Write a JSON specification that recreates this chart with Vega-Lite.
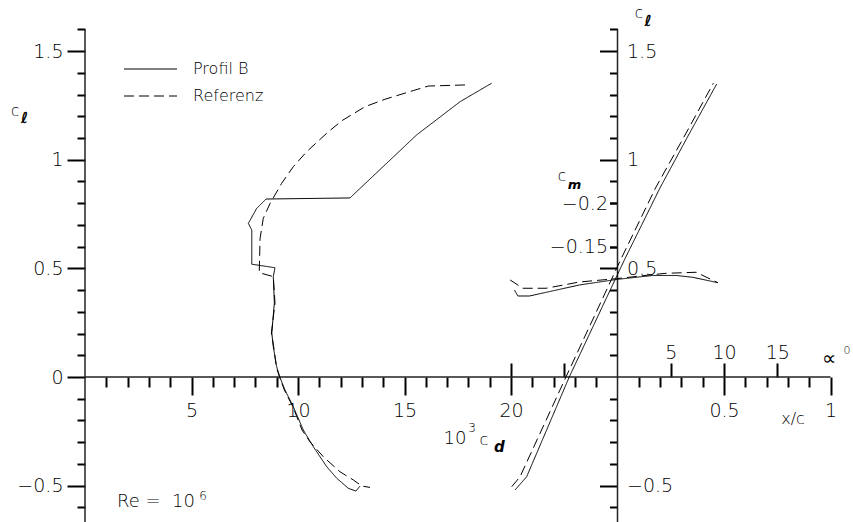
{
  "$schema": "https://vega.github.io/schema/vega-lite/v6.json",
  "width": 853,
  "height": 522,
  "padding": 0,
  "autosize": {"type": "none"},
  "background": "white",
  "config": {
    "view": {"stroke": null},
    "axis": {"domain": false, "grid": false, "tickColor": "black", "tickWidth": 2, "labelColor": "black", "labelFont": "DejaVu Sans", "labelFontSize": 19, "labelFontWeight": 200, "labelOverlap": false, "labelFlush": false, "labelBound": false},
    "line": {"strokeWidth": 1, "color": "black"},
    "rule": {"strokeWidth": 1.5, "color": "#222222"},
    "text": {"font": "DejaVu Sans", "color": "black", "fontWeight": 200}
  },
  "datasets": {
    "polar": [
      {"series": "Profil B", "i": 1, "cd": 19.09, "cl": 1.352},
      {"series": "Profil B", "i": 2, "cd": 17.61, "cl": 1.267},
      {"series": "Profil B", "i": 3, "cd": 15.57, "cl": 1.114},
      {"series": "Profil B", "i": 4, "cd": 12.44, "cl": 0.824},
      {"series": "Profil B", "i": 5, "cd": 8.50, "cl": 0.819},
      {"series": "Profil B", "i": 6, "cd": 8.06, "cl": 0.776},
      {"series": "Profil B", "i": 7, "cd": 7.67, "cl": 0.707},
      {"series": "Profil B", "i": 8, "cd": 7.83, "cl": 0.676},
      {"series": "Profil B", "i": 9, "cd": 7.83, "cl": 0.519},
      {"series": "Profil B", "i": 10, "cd": 8.92, "cl": 0.503},
      {"series": "Profil B", "i": 11, "cd": 8.84, "cl": 0.462},
      {"series": "Profil B", "i": 12, "cd": 8.89, "cl": 0.341},
      {"series": "Profil B", "i": 13, "cd": 8.77, "cl": 0.202},
      {"series": "Profil B", "i": 14, "cd": 8.84, "cl": 0.139},
      {"series": "Profil B", "i": 15, "cd": 9.00, "cl": 0.047},
      {"series": "Profil B", "i": 16, "cd": 9.15, "cl": -0.001},
      {"series": "Profil B", "i": 17, "cd": 9.39, "cl": -0.060},
      {"series": "Profil B", "i": 18, "cd": 9.78, "cl": -0.137},
      {"series": "Profil B", "i": 19, "cd": 10.25, "cl": -0.244},
      {"series": "Profil B", "i": 20, "cd": 10.72, "cl": -0.321},
      {"series": "Profil B", "i": 21, "cd": 11.35, "cl": -0.413},
      {"series": "Profil B", "i": 22, "cd": 11.82, "cl": -0.466},
      {"series": "Profil B", "i": 23, "cd": 12.36, "cl": -0.512},
      {"series": "Profil B", "i": 24, "cd": 12.72, "cl": -0.525},
      {"series": "Profil B", "i": 25, "cd": 12.91, "cl": -0.502},
      {"series": "Referenz", "i": 1, "cd": 17.84, "cl": 1.344},
      {"series": "Referenz", "i": 2, "cd": 16.12, "cl": 1.339},
      {"series": "Referenz", "i": 3, "cd": 15.41, "cl": 1.318},
      {"series": "Referenz", "i": 4, "cd": 14.08, "cl": 1.278},
      {"series": "Referenz", "i": 5, "cd": 13.15, "cl": 1.244},
      {"series": "Referenz", "i": 6, "cd": 12.05, "cl": 1.179},
      {"series": "Referenz", "i": 7, "cd": 11.35, "cl": 1.122},
      {"series": "Referenz", "i": 8, "cd": 10.41, "cl": 1.037},
      {"series": "Referenz", "i": 9, "cd": 9.78, "cl": 0.968},
      {"series": "Referenz", "i": 10, "cd": 9.23, "cl": 0.891},
      {"series": "Referenz", "i": 11, "cd": 8.69, "cl": 0.799},
      {"series": "Referenz", "i": 12, "cd": 8.37, "cl": 0.730},
      {"series": "Referenz", "i": 13, "cd": 8.22, "cl": 0.638},
      {"series": "Referenz", "i": 14, "cd": 8.18, "cl": 0.480},
      {"series": "Referenz", "i": 15, "cd": 8.84, "cl": 0.462},
      {"series": "Referenz", "i": 16, "cd": 8.92, "cl": 0.341},
      {"series": "Referenz", "i": 17, "cd": 8.75, "cl": 0.202},
      {"series": "Referenz", "i": 18, "cd": 8.86, "cl": 0.139},
      {"series": "Referenz", "i": 19, "cd": 8.98, "cl": 0.047},
      {"series": "Referenz", "i": 20, "cd": 9.13, "cl": 0.0},
      {"series": "Referenz", "i": 21, "cd": 9.36, "cl": -0.060},
      {"series": "Referenz", "i": 22, "cd": 9.76, "cl": -0.137},
      {"series": "Referenz", "i": 23, "cd": 10.19, "cl": -0.244},
      {"series": "Referenz", "i": 24, "cd": 10.56, "cl": -0.298},
      {"series": "Referenz", "i": 25, "cd": 11.19, "cl": -0.367},
      {"series": "Referenz", "i": 26, "cd": 11.97, "cl": -0.436},
      {"series": "Referenz", "i": 27, "cd": 12.60, "cl": -0.474},
      {"series": "Referenz", "i": 28, "cd": 13.00, "cl": -0.502},
      {"series": "Referenz", "i": 29, "cd": 13.38, "cl": -0.508}
    ],
    "lift": [
      {"series": "Profil B", "i": 1, "alpha": -9.62, "cl": -0.520},
      {"series": "Profil B", "i": 2, "alpha": -8.53, "cl": -0.459},
      {"series": "Profil B", "i": 3, "alpha": -4.53, "cl": 0.0},
      {"series": "Profil B", "i": 4, "alpha": 0.64, "cl": 0.538},
      {"series": "Profil B", "i": 5, "alpha": 3.99, "cl": 0.870},
      {"series": "Profil B", "i": 6, "alpha": 6.62, "cl": 1.109},
      {"series": "Profil B", "i": 7, "alpha": 9.31, "cl": 1.348},
      {"series": "Referenz", "i": 1, "alpha": -9.93, "cl": -0.505},
      {"series": "Referenz", "i": 2, "alpha": -9.15, "cl": -0.459},
      {"series": "Referenz", "i": 3, "alpha": -4.84, "cl": 0.0},
      {"series": "Referenz", "i": 4, "alpha": 0.28, "cl": 0.538},
      {"series": "Referenz", "i": 5, "alpha": 3.57, "cl": 0.870},
      {"series": "Referenz", "i": 6, "alpha": 6.29, "cl": 1.109},
      {"series": "Referenz", "i": 7, "alpha": 9.0, "cl": 1.352}
    ],
    "moment": [
      {"series": "Profil B", "i": 1, "alpha": -9.67, "cm": -0.100},
      {"series": "Profil B", "i": 2, "alpha": -9.36, "cm": -0.0932},
      {"series": "Profil B", "i": 3, "alpha": -8.26, "cm": -0.0932},
      {"series": "Profil B", "i": 4, "alpha": -3.57, "cm": -0.1059},
      {"series": "Profil B", "i": 5, "alpha": 0.03, "cm": -0.1124},
      {"series": "Profil B", "i": 6, "alpha": 3.31, "cm": -0.1168},
      {"series": "Profil B", "i": 7, "alpha": 5.51, "cm": -0.1168},
      {"series": "Profil B", "i": 8, "alpha": 7.07, "cm": -0.1147},
      {"series": "Profil B", "i": 9, "alpha": 9.42, "cm": -0.1085},
      {"series": "Referenz", "i": 1, "alpha": -10.08, "cm": -0.1116},
      {"series": "Referenz", "i": 2, "alpha": -8.89, "cm": -0.1021},
      {"series": "Referenz", "i": 3, "alpha": -6.69, "cm": -0.1021},
      {"series": "Referenz", "i": 4, "alpha": -3.57, "cm": -0.1093},
      {"series": "Referenz", "i": 5, "alpha": 0.03, "cm": -0.1133},
      {"series": "Referenz", "i": 6, "alpha": 3.00, "cm": -0.1174},
      {"series": "Referenz", "i": 7, "alpha": 4.57, "cm": -0.1193},
      {"series": "Referenz", "i": 8, "alpha": 7.39, "cm": -0.1205},
      {"series": "Referenz", "i": 9, "alpha": 9.42, "cm": -0.1085}
    ]
  },
  "resolve": {"scale": {"x": "independent", "y": "independent"}, "axis": {"x": "independent", "y": "independent"}},
  "layer": [
    {
      "data": {"values": [{}]},
      "mark": "rule",
      "encoding": {
        "x": {"datum": 0, "type": "quantitative", "scale": {"domain": [-3.9906, 36.0563], "nice": false, "zero": false},
          "axis": {"orient": "bottom", "offset": -145, "values": [1,2,3,4,6,7,8,9,11,12,13,14,16,17,18,19,21,22,23,24,26,27,28,29,31,32,33,34], "tickSize": 10, "labels": false, "title": null}},
        "y": {"datum": 1.6, "type": "quantitative", "scale": {"domain": [-0.66728, 1.73493], "nice": false, "zero": false},
          "axis": {"orient": "left", "offset": -85, "values": [-0.5, 0, 0.5, 1, 1.5], "tickSize": 18, "labelPadding": 4, "format": ".1~f", "title": null}},
        "y2": {"datum": -0.68}
      }
    },
    {
      "data": {"values": [{}]},
      "mark": "rule",
      "encoding": {
        "x": {"datum": 25, "type": "quantitative", "scale": {"domain": [-3.9906, 36.0563], "nice": false, "zero": false},
          "axis": {"orient": "bottom", "offset": -145, "values": [5, 10, 15, 20, 30, 35], "tickSize": 18, "labelPadding": 21, "labelBaseline": "alphabetic", "labelExpr": "datum.value == 30 ? '0.5' : datum.value == 35 ? '1' : format(datum.value, 'd')", "title": null}},
        "y": {"datum": 1.6, "type": "quantitative", "scale": {"domain": [-0.66728, 1.73493], "nice": false, "zero": false},
          "axis": {"orient": "left", "offset": -85, "values": [-0.6,-0.4,-0.3,-0.2,-0.1,0.1,0.2,0.3,0.4,0.6,0.7,0.8,0.9,1.1,1.2,1.3,1.4,1.6], "tickSize": 8, "labels": false, "title": null}},
        "y2": {"datum": -0.68}
      }
    },
    {
      "data": {"values": [{}]},
      "mark": "rule",
      "encoding": {
        "x": {"datum": 0, "type": "quantitative", "scale": {"domain": [-3.9906, 36.0563], "nice": false, "zero": false},
          "axis": {"orient": "top", "offset": -377, "values": [20, 22.5, 27.5, 30, 32.5], "tickSize": 14, "labelPadding": 5, "labelBaseline": "alphabetic", "labelExpr": "datum.value == 27.5 ? '5' : datum.value == 30 ? '10' : datum.value == 32.5 ? '15' : ''", "title": null}},
        "x2": {"datum": 35},
        "y": {"datum": 0, "type": "quantitative", "scale": {"domain": [-0.66728, 1.73493], "nice": false, "zero": false},
          "axis": {"orient": "left", "offset": -617.5, "values": [-0.5, 0.5, 1, 1.5], "tickSize": 18, "labels": false, "title": null}}
      }
    },
    {
      "data": {"name": "polar"},
      "mark": {"type": "line", "strokeWidth": 1},
      "encoding": {
        "x": {"field": "cd", "type": "quantitative", "scale": {"domain": [-3.9906, 36.0563], "nice": false, "zero": false}, "axis": null},
        "y": {"field": "cl", "type": "quantitative", "scale": {"domain": [-0.66728, 1.73493], "nice": false, "zero": false},
          "axis": {"orient": "left", "offset": -617.5, "values": [-0.6,-0.4,-0.3,-0.2,-0.1,0.1,0.2,0.3,0.4,0.6,0.7,0.8,0.9,1.1,1.2,1.3,1.4,1.6], "tickSize": 8, "labels": false, "title": null}},
        "strokeDash": {"field": "series", "type": "nominal", "scale": {"domain": ["Profil B", "Referenz"], "range": [[1, 0], [10, 5]]},
          "legend": {"title": null, "orient": "none", "legendX": 140, "legendY": 58.5, "symbolType": "M-2.65,0H2.65", "symbolSize": 400, "symbolStrokeWidth": 1, "symbolStrokeColor": "black", "symbolFillColor": "transparent", "labelFont": "DejaVu Sans", "labelFontSize": 16, "labelFontWeight": 200, "labelColor": "black", "labelOffset": 32, "rowPadding": 8, "padding": 0, "labelExpr": "datum.label == 'Profil B' ? 'Profil   B' : datum.label"}},
        "order": {"field": "i", "type": "quantitative"}
      }
    },
    {
      "data": {"name": "lift"},
      "mark": {"type": "line", "strokeWidth": 1},
      "encoding": {
        "x": {"field": "alpha", "type": "quantitative", "scale": {"domain": [-57.981, 22.113], "nice": false, "zero": false}, "axis": null},
        "y": {"field": "cl", "type": "quantitative", "scale": {"domain": [-0.66728, 1.73493], "nice": false, "zero": false},
          "axis": {"orient": "right", "offset": -235.5, "values": [-0.5, 0.5, 1, 1.5], "ticks": false, "tickSize": 0, "labelPadding": 9, "format": ".1~f", "title": null}},
        "strokeDash": {"field": "series", "type": "nominal"},
        "order": {"field": "i", "type": "quantitative"}
      }
    },
    {
      "data": {"name": "moment"},
      "mark": {"type": "line", "strokeWidth": 1},
      "encoding": {
        "x": {"field": "alpha", "type": "quantitative", "scale": {"domain": [-57.981, 22.113], "nice": false, "zero": false}, "axis": null},
        "y": {"field": "cm", "type": "quantitative", "scale": {"domain": [0.16682, -0.43373], "nice": false, "zero": false},
          "axis": {"orient": "left", "offset": -617.5, "values": [-0.2, -0.15], "tickSize": 8, "labelPadding": 2, "format": ".2~f", "title": null}},
        "strokeDash": {"field": "series", "type": "nominal"},
        "order": {"field": "i", "type": "quantitative"}
      }
    },
    {"data": {"values": [{}]}, "mark": {"type": "text", "fontSize": 15, "align": "center", "baseline": "middle"},
      "encoding": {"x": {"datum": -3.286, "type": "quantitative", "scale": {"domain": [-3.9906, 36.0563], "nice": false, "zero": false}, "axis": null},
        "y": {"datum": 1.224, "type": "quantitative", "scale": {"domain": [-0.66728, 1.73493], "nice": false, "zero": false}, "axis": null},
        "text": {"value": "c"}}},
    {"data": {"values": [{}]}, "mark": {"type": "text", "fontSize": 15, "fontStyle": "italic", "fontWeight": "bold", "align": "center", "baseline": "middle"},
      "encoding": {"x": {"datum": -2.84, "type": "quantitative", "scale": {"domain": [-3.9906, 36.0563], "nice": false, "zero": false}, "axis": null},
        "y": {"datum": 1.192, "type": "quantitative", "scale": {"domain": [-0.66728, 1.73493], "nice": false, "zero": false}, "axis": null},
        "text": {"value": "ℓ"}}},
    {"data": {"values": [{}]}, "mark": {"type": "text", "fontSize": 15, "align": "center", "baseline": "middle"},
      "encoding": {"x": {"datum": 26.009, "type": "quantitative", "scale": {"domain": [-3.9906, 36.0563], "nice": false, "zero": false}, "axis": null},
        "y": {"datum": 1.675, "type": "quantitative", "scale": {"domain": [-0.66728, 1.73493], "nice": false, "zero": false}, "axis": null},
        "text": {"value": "c"}}},
    {"data": {"values": [{}]}, "mark": {"type": "text", "fontSize": 15, "fontStyle": "italic", "fontWeight": "bold", "align": "center", "baseline": "middle"},
      "encoding": {"x": {"datum": 26.432, "type": "quantitative", "scale": {"domain": [-3.9906, 36.0563], "nice": false, "zero": false}, "axis": null},
        "y": {"datum": 1.638, "type": "quantitative", "scale": {"domain": [-0.66728, 1.73493], "nice": false, "zero": false}, "axis": null},
        "text": {"value": "ℓ"}}},
    {"data": {"values": [{}]}, "mark": {"type": "text", "fontSize": 15, "align": "center", "baseline": "middle"},
      "encoding": {"x": {"datum": 22.394, "type": "quantitative", "scale": {"domain": [-3.9906, 36.0563], "nice": false, "zero": false}, "axis": null},
        "y": {"datum": 0.925, "type": "quantitative", "scale": {"domain": [-0.66728, 1.73493], "nice": false, "zero": false}, "axis": null},
        "text": {"value": "c"}}},
    {"data": {"values": [{}]}, "mark": {"type": "text", "fontSize": 13, "fontStyle": "italic", "fontWeight": "bold", "align": "center", "baseline": "middle"},
      "encoding": {"x": {"datum": 22.981, "type": "quantitative", "scale": {"domain": [-3.9906, 36.0563], "nice": false, "zero": false}, "axis": null},
        "y": {"datum": 0.884, "type": "quantitative", "scale": {"domain": [-0.66728, 1.73493], "nice": false, "zero": false}, "axis": null},
        "text": {"value": "m"}}},
    {"data": {"values": [{}]}, "mark": {"type": "text", "fontSize": 18, "align": "center", "baseline": "middle"},
      "encoding": {"x": {"datum": 17.371, "type": "quantitative", "scale": {"domain": [-3.9906, 36.0563], "nice": false, "zero": false}, "axis": null},
        "y": {"datum": -0.285, "type": "quantitative", "scale": {"domain": [-0.66728, 1.73493], "nice": false, "zero": false}, "axis": null},
        "text": {"value": "10"}}},
    {"data": {"values": [{}]}, "mark": {"type": "text", "fontSize": 12, "align": "center", "baseline": "middle"},
      "encoding": {"x": {"datum": 18.169, "type": "quantitative", "scale": {"domain": [-3.9906, 36.0563], "nice": false, "zero": false}, "axis": null},
        "y": {"datum": -0.235, "type": "quantitative", "scale": {"domain": [-0.66728, 1.73493], "nice": false, "zero": false}, "axis": null},
        "text": {"value": "3"}}},
    {"data": {"values": [{}]}, "mark": {"type": "text", "fontSize": 16, "align": "center", "baseline": "middle"},
      "encoding": {"x": {"datum": 18.732, "type": "quantitative", "scale": {"domain": [-3.9906, 36.0563], "nice": false, "zero": false}, "axis": null},
        "y": {"datum": -0.29, "type": "quantitative", "scale": {"domain": [-0.66728, 1.73493], "nice": false, "zero": false}, "axis": null},
        "text": {"value": "c"}}},
    {"data": {"values": [{}]}, "mark": {"type": "text", "fontSize": 15, "fontStyle": "italic", "fontWeight": "bold", "align": "center", "baseline": "middle"},
      "encoding": {"x": {"datum": 19.45, "type": "quantitative", "scale": {"domain": [-3.9906, 36.0563], "nice": false, "zero": false}, "axis": null},
        "y": {"datum": -0.322, "type": "quantitative", "scale": {"domain": [-0.66728, 1.73493], "nice": false, "zero": false}, "axis": null},
        "text": {"value": "d"}}},
    {"data": {"values": [{}]}, "mark": {"type": "text", "fontSize": 18, "align": "left", "baseline": "middle"},
      "encoding": {"x": {"datum": 1.502, "type": "quantitative", "scale": {"domain": [-3.9906, 36.0563], "nice": false, "zero": false}, "axis": null},
        "y": {"datum": -0.575, "type": "quantitative", "scale": {"domain": [-0.66728, 1.73493], "nice": false, "zero": false}, "axis": null},
        "text": {"value": "Re = \u00a010"}}},
    {"data": {"values": [{}]}, "mark": {"type": "text", "fontSize": 12, "align": "center", "baseline": "middle"},
      "encoding": {"x": {"datum": 5.54, "type": "quantitative", "scale": {"domain": [-3.9906, 36.0563], "nice": false, "zero": false}, "axis": null},
        "y": {"datum": -0.548, "type": "quantitative", "scale": {"domain": [-0.66728, 1.73493], "nice": false, "zero": false}, "axis": null},
        "text": {"value": "6"}}},
    {"data": {"values": [{}]}, "mark": {"type": "text", "fontSize": 16, "align": "center", "baseline": "middle"},
      "encoding": {"x": {"datum": 33.239, "type": "quantitative", "scale": {"domain": [-3.9906, 36.0563], "nice": false, "zero": false}, "axis": null},
        "y": {"datum": -0.193, "type": "quantitative", "scale": {"domain": [-0.66728, 1.73493], "nice": false, "zero": false}, "axis": null},
        "text": {"value": "x/c"}}},
    {"data": {"values": [{}]}, "mark": {"type": "text", "fontSize": 20, "align": "center", "baseline": "middle"},
      "encoding": {"x": {"datum": 34.93, "type": "quantitative", "scale": {"domain": [-3.9906, 36.0563], "nice": false, "zero": false}, "axis": null},
        "y": {"datum": 0.083, "type": "quantitative", "scale": {"domain": [-0.66728, 1.73493], "nice": false, "zero": false}, "axis": null},
        "text": {"value": "∝"}}},
    {"data": {"values": [{}]}, "mark": {"type": "text", "fontSize": 11, "align": "center", "baseline": "middle"},
      "encoding": {"x": {"datum": 35.775, "type": "quantitative", "scale": {"domain": [-3.9906, 36.0563], "nice": false, "zero": false}, "axis": null},
        "y": {"datum": 0.12, "type": "quantitative", "scale": {"domain": [-0.66728, 1.73493], "nice": false, "zero": false}, "axis": null},
        "text": {"value": "0"}}}
  ]
}
